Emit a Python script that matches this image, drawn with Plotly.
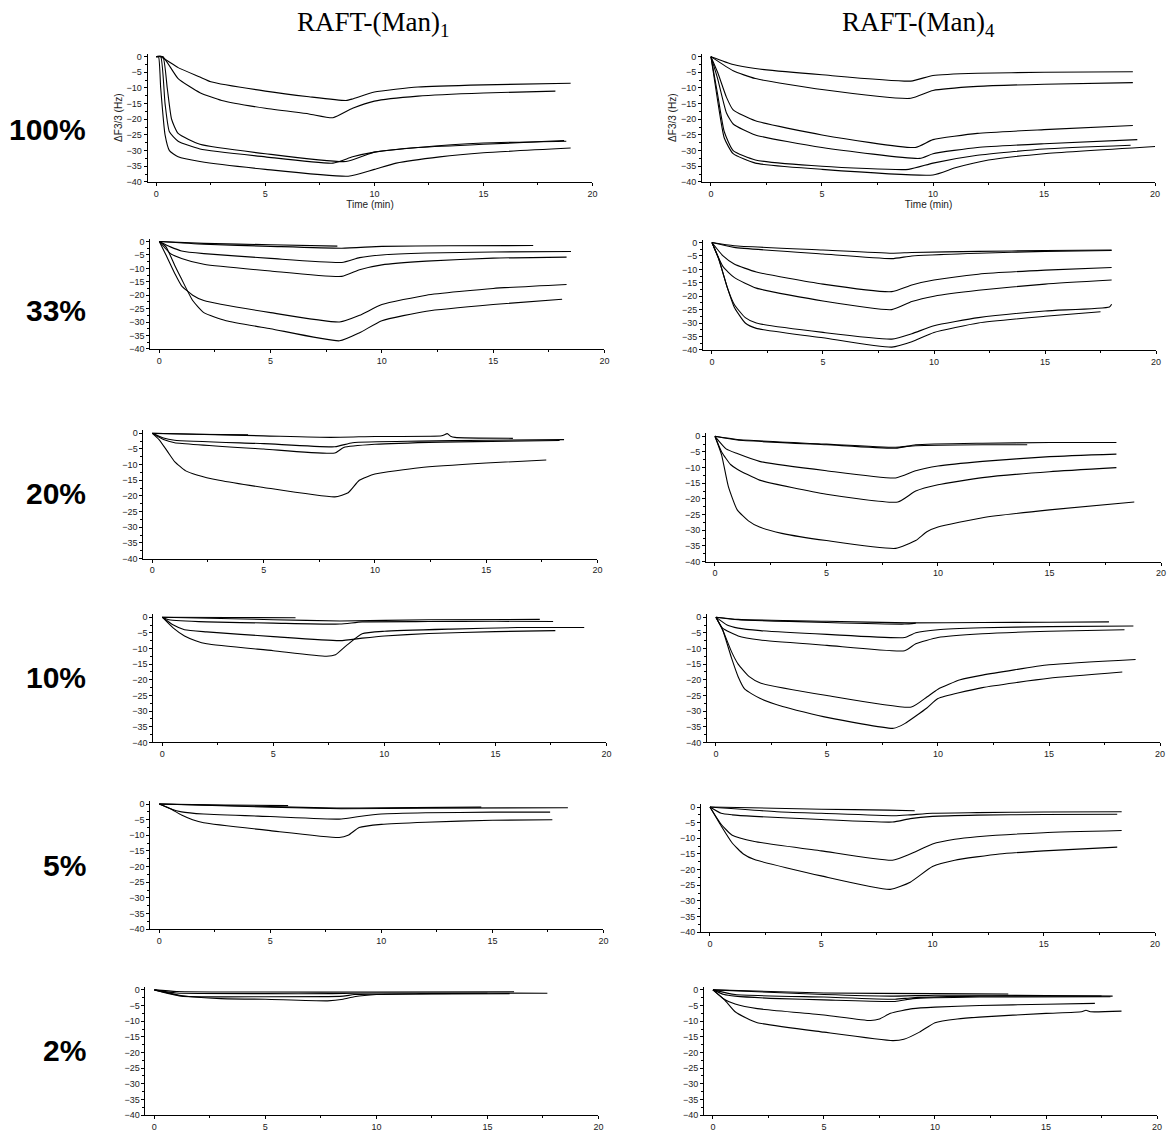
import plotly.graph_objects as go

# ---------------- DATA (time in min, ΔF3/3 in Hz) ----------------
row_labels = ["100%", "33%", "20%", "10%", "5%", "2%"]
col_titles = ["RAFT-(Man)<sub>1</sub>", "RAFT-(Man)<sub>4</sub>"]
x_ticks = [0, 5, 10, 15, 20]
y_ticks = [0, -5, -10, -15, -20, -25, -30, -35, -40]

man1_100 = [
    ([0, 0.2, 1, 2, 2.5, 5, 7, 8.7, 9, 10, 12, 15, 19],
     [0, 0, -3.5, -6.5, -8, -11, -12.8, -14, -13.5, -11.3, -9.7, -9, -8.5]),
    ([0, 0.3, 1, 2, 3, 5, 7, 8.1, 9, 10, 12, 15, 18.3],
     [0, 0, -7, -11.5, -14, -16.5, -18.3, -19.5, -16.5, -14.2, -12.6, -11.6, -11]),
    ([0, 0.3, 0.5, 0.7, 1, 2, 5, 8.7, 10, 12, 15, 18.8],
     [0, 0, -10, -20, -24.5, -28, -31, -33.5, -30.5, -29, -27.6, -27]),
    ([0, 0.2, 0.4, 0.6, 1, 2, 5, 8.1, 9, 10, 12, 15, 18.7],
     [0, 0, -15, -24, -27, -29.5, -32, -34, -32, -30.5, -29, -28, -26.8]),
    ([0, 0.1, 0.2, 0.4, 0.6, 1, 2, 5, 8.8, 10, 11, 13, 15, 19],
     [0, 0, -10, -25, -30, -32, -33.5, -36, -38.2, -36, -34, -32, -30.7, -29.2]),
]
man4_100 = [
    ([0, 1, 2, 5, 9, 10, 12, 15, 19],
     [0, -2.5, -3.8, -5.8, -7.8, -6, -5.3, -5, -4.8]),
    ([0, 1, 2, 5, 9, 10, 12, 15, 19],
     [0, -4.5, -7, -10.5, -13.3, -10.8, -9.5, -8.8, -8.3]),
    ([0, 0.3, 0.7, 1, 2, 5, 9.2, 10, 12, 15, 19],
     [0, -5, -13, -17, -20.5, -25, -29, -26.5, -24.5, -23.3, -22]),
    ([0, 0.3, 0.7, 1, 2, 5, 9.4, 10, 12, 15, 19.2],
     [0, -7, -18, -21.5, -25, -29, -32.5, -31, -29, -27.8, -26.5]),
    ([0, 0.3, 0.6, 1, 2, 5, 8.9, 10, 12, 15, 18.9],
     [0, -12, -24, -30, -33, -35, -36, -34, -31.5, -29.5, -28.3]),
    ([0, 0.3, 0.6, 1, 2, 5, 10, 11, 12.5, 15, 20],
     [0, -14, -26, -31, -34, -36, -37.8, -35.5, -33, -31, -28.7]),
]
man1_33 = [
    ([0, 2, 5, 8],
     [0, -0.7, -1.2, -1.7]),
    ([0, 2, 5, 8.2, 10, 13, 16.8],
     [0, -1, -1.8, -2.5, -1.8, -1.6, -1.5]),
    ([0, 0.5, 1, 2, 5, 8.2, 9, 10, 12, 15, 18.5],
     [0, -2, -3.5, -4.5, -6.3, -7.8, -6, -5, -4.3, -3.9, -3.7]),
    ([0, 0.5, 1, 2, 5, 8.2, 9, 10, 12, 15, 18.3],
     [0, -4.5, -6.3, -8.5, -11, -13, -10.5, -8.7, -7.3, -6.2, -5.8]),
    ([0, 0.3, 0.7, 1, 1.5, 2, 5, 8.1, 9, 10, 12, 15, 18.3],
     [0, -5, -12, -16.5, -20, -22, -26.5, -30, -27.5, -23.5, -20, -17.5, -16]),
    ([0, 0.3, 0.7, 1, 1.5, 2, 3, 5, 8.1, 9, 10, 12, 15, 18.1],
     [0, -2, -9, -14, -22, -26.5, -29.5, -32.5, -37, -34, -29.5, -26, -23.5, -21.5]),
]
man4_33 = [
    ([0, 1, 5, 8.1, 9, 12, 15, 18],
     [0, -1.2, -2.8, -4, -3.7, -3.3, -3, -2.8]),
    ([0, 1, 5, 8.1, 9, 12, 15, 18],
     [0, -1.8, -4.3, -6, -5, -4, -3.3, -3]),
    ([0, 0.5, 1, 2, 5, 8.1, 9, 10, 12, 15, 18],
     [0, -5, -8, -11, -15.5, -18.3, -15.8, -14, -11.8, -10.3, -9.3]),
    ([0, 0.5, 1, 2, 5, 8.1, 9, 10, 12, 15, 18],
     [0, -9, -13, -17, -21.8, -25, -22, -20, -17.8, -15.5, -14]),
    ([0, 0.3, 0.7, 1, 1.5, 2, 5, 8.1, 9, 10, 12, 15, 17.9, 18],
     [0, -6, -17, -23, -28, -30, -33.5, -36, -34, -31, -28, -25.5, -24, -23]),
    ([0, 0.3, 0.7, 1, 1.5, 2, 5, 8.1, 9, 10, 12, 15, 17.5],
     [0, -6, -17, -24, -30, -32, -35.5, -39, -37, -33.5, -30, -27.5, -25.8]),
]
man1_20 = [
    ([0, 2, 4.3],
     [0, -0.3, -0.5]),
    ([0, 5, 8, 10, 13, 13.25, 13.4, 13.6, 16.2],
     [0, -0.8, -1.3, -1, -0.8, -0.1, -0.9, -1.3, -1.6]),
    ([0, 0.5, 1, 5, 8.2, 9, 12, 15, 18.5],
     [0, -1.5, -2.2, -3.3, -4.3, -3, -2.5, -2.2, -2]),
    ([0, 0.5, 1, 5, 8.2, 8.6, 10, 13, 16, 18.3],
     [0, -2, -3, -5, -6.3, -4.5, -3.5, -2.8, -2.5, -2.3]),
    ([0, 0.3, 0.7, 1, 1.5, 2, 3, 5, 8.2, 8.8, 9.3, 10, 12, 15, 17.7],
     [0, -2, -6, -9, -12, -13.3, -15, -17.3, -20.3, -19, -15, -13, -11, -9.5, -8.5]),
]
man4_20 = [
    ([0, 1, 5, 8.1, 9, 12, 14],
     [0, -1, -2.5, -3.5, -3, -2.7, -2.7]),
    ([0, 1, 5, 8.1, 9, 12, 15, 18],
     [0, -1.2, -2.7, -3.8, -2.7, -2.2, -2, -2]),
    ([0, 0.5, 1, 2, 5, 8.1, 9, 10, 12, 15, 18],
     [0, -4, -5.5, -8, -11, -13.3, -11, -9.5, -8, -6.5, -5.7]),
    ([0, 0.3, 0.7, 1, 2, 5, 8.2, 9, 10, 12, 15, 18],
     [0, -5, -9, -10.5, -14, -18.5, -21, -17.5, -15.5, -13.2, -11.3, -10]),
    ([0, 0.3, 0.6, 1, 1.5, 2, 3, 5, 8.1, 9, 9.5, 10, 12, 15, 18.8],
     [0, -6, -16, -23.5, -27, -29, -31, -33.3, -35.8, -33.3, -30.5, -29, -26, -23.5, -21]),
]
man1_10 = [
    ([0, 3, 6],
     [0, -0.1, -0.2]),
    ([0, 5, 8, 12, 17],
     [0, -0.8, -1.2, -0.8, -0.7]),
    ([0, 0.3, 2, 5, 8, 9, 12, 15, 17.6],
     [0, -0.8, -1.5, -1.9, -2.2, -1.5, -1.4, -1.3, -1.4]),
    ([0, 0.5, 1, 2, 5, 8, 9, 10, 12, 15, 17.7],
     [0, -2.5, -4, -4.7, -6.2, -7.5, -6.7, -6, -5.2, -4.6, -4.3]),
    ([0, 0.5, 1, 1.5, 2, 5, 7.4, 7.8, 8.3, 9, 10, 13, 16, 19],
     [0, -3.5, -6, -7.5, -8.5, -10.7, -12.5, -12, -9, -5.3, -4.5, -3.8, -3.3, -3.3]),
]
man4_10 = [
    ([0, 1, 5, 8.7, 12, 15, 17.7],
     [0, -0.7, -1.3, -1.8, -1.7, -1.6, -1.5]),
    ([0, 1, 5, 8.5, 9],
     [0, -0.8, -1.7, -2.2, -1.9]),
    ([0, 0.5, 1, 2, 5, 8.5, 9, 10, 12, 15, 18.8],
     [0, -2.5, -3.5, -4.3, -5.5, -6.5, -5, -4, -3.4, -3, -2.8]),
    ([0, 0.3, 1, 2, 5, 8.5, 9, 10, 12, 15, 18.4],
     [0, -3.5, -6, -7.3, -9, -10.7, -8.5, -6.5, -5.3, -4.5, -4]),
    ([0, 0.3, 0.7, 1, 1.5, 2, 5, 8.8, 9.5, 10, 11, 12, 15, 18.9],
     [0, -4, -11, -15, -19, -21, -25, -28.7, -25.5, -23, -20, -18.5, -15.2, -13.5]),
    ([0, 0.3, 0.7, 1, 1.3, 2, 3, 5, 8, 8.5, 9.5, 10, 12, 15, 18.3],
     [0, -4, -13, -19, -23, -26, -28.5, -32, -35.5, -34, -29, -26, -22.5, -19.5, -17.5]),
]
man1_5 = [
    ([0, 3, 5.8],
     [0, -0.3, -0.5]),
    ([0, 5, 8, 10, 14.5],
     [0, -0.8, -1.3, -1.2, -1]),
    ([0, 5, 8.2, 12, 18.4],
     [0, -1, -1.5, -1.3, -1.2]),
    ([0, 0.5, 1, 2, 5, 8.2, 9, 10, 12, 15, 17.6],
     [0, -1.5, -2.5, -3.2, -4, -4.8, -4, -3.2, -2.8, -2.6, -2.6]),
    ([0, 0.5, 1, 1.5, 2, 5, 8.1, 8.5, 9, 10, 12, 15, 17.7],
     [0, -1.5, -3.5, -5, -6, -8.5, -10.7, -10, -7.5, -6.5, -5.8, -5.2, -5]),
]
man4_5 = [
    ([0, 5, 8, 9.2],
     [0, -0.7, -1, -1.2]),
    ([0, 3, 5, 8.3, 9, 10, 12, 15, 18.5],
     [0, -1.5, -2, -2.8, -2.5, -2, -1.8, -1.6, -1.5]),
    ([0, 0.5, 1, 2, 5, 8.2, 9, 10, 12, 15, 18.3],
     [0, -2, -2.5, -3, -4, -4.8, -3.7, -3, -2.6, -2.4, -2.3]),
    ([0, 0.5, 1, 2, 5, 8.2, 9, 10, 11, 12, 15, 18.5],
     [0, -5.5, -9, -11, -14, -17, -15, -11.8, -10.3, -9.5, -8.2, -7.5]),
    ([0, 0.5, 1, 1.5, 2, 5, 8.1, 9, 10, 11, 13, 15, 18.3],
     [0, -6, -11.5, -15, -16.8, -22, -26.3, -24, -19, -17, -15, -14, -12.8]),
]
man1_2 = [
    ([0, 1, 5, 10, 16.2],
     [0, -0.5, -0.7, -0.7, -0.6]),
    ([0, 1, 5, 8, 10, 15, 17.7],
     [0, -1, -1.2, -1.2, -1, -1, -1.1]),
    ([0, 1.2, 5, 8.5, 9, 12, 15],
     [0, -2, -2.2, -2, -1.5, -1.2, -1.1]),
    ([0, 1.2, 3, 5, 7.8, 8.5, 9, 10, 13, 16],
     [0, -1.8, -2.8, -3, -3.5, -3, -2.2, -1.5, -1.3, -1.2]),
]
man4_2 = [
    ([0, 5, 10, 13.3],
     [0, -1, -1.2, -1.3]),
    ([0, 5, 8, 10, 15, 18],
     [0, -1.5, -2, -1.7, -1.8, -2]),
    ([0, 1, 5, 8.2, 9, 12, 15, 17.5],
     [0, -1.5, -2.3, -3, -2.5, -2, -2, -2]),
    ([0, 0.5, 1, 3, 5, 8.2, 9, 12, 17.9],
     [0, -1.5, -2, -2.8, -3.2, -3.7, -2.8, -2.3, -2.2]),
    ([0, 0.5, 1, 2, 5, 7.1, 7.5, 8, 9, 10, 12, 15, 17.2],
     [0, -3, -4.5, -6, -8, -9.8, -9.3, -7.5, -6, -5.5, -5, -4.6, -4.3]),
    ([0, 0.5, 1, 1.5, 2, 5, 8.1, 8.6, 9.3, 10, 11, 12, 15, 16.6, 16.8, 17, 18.4],
     [0, -3, -7, -9, -10.5, -13.5, -16.2, -15.8, -13.5, -10.5, -9.3, -8.7, -7.5, -7, -6.5, -7, -6.8]),
]

panels = [man1_100, man4_100, man1_33, man4_33, man1_20, man4_20,
          man1_10, man4_10, man1_5, man4_5, man1_2, man4_2]

# ---------------- LAYOUT GEOMETRY (pixels: x of t=0, x of t=20, y of 0 Hz, y of -40 Hz) ----------------
W, H = 1173, 1136
geom = [
    (157, 595, 55, 181), (714, 1160, 55, 181),
    (160, 607, 241, 349), (715, 1161, 242, 350),
    (153, 600, 434, 560), (718, 1166, 437, 563),
    (163, 609, 619, 745), (719, 1165, 619, 745),
    (160, 606, 807, 933), (713, 1160, 810, 936),
    (155, 601, 994, 1120), (716, 1162, 994, 1120),
]
row_label_y = [128, 310, 495, 680, 869, 1055]
XMIN, YMAX = -0.4, 1.0

tick_font = dict(family="Liberation Sans, Arial, sans-serif", size=9, color="#222")
title_font = dict(family="Liberation Sans, Arial, sans-serif", size=10, color="#222")

fig = go.Figure()
layout = {}
for i, (curves, g) in enumerate(zip(panels, geom)):
    sfx = "" if i == 0 else str(i + 1)
    xa, ya = "x" + sfx, "y" + sfx
    for t, v in curves:
        fig.add_trace(go.Scatter(x=t, y=v, mode="lines",
                                 line=dict(color="black", width=1.1, shape="spline", smoothing=0.5),
                                 xaxis=xa, yaxis=ya, showlegend=False,
                                 hoverinfo="skip"))
    px0, px20, py0, py40 = g
    ppu = (px20 - px0) / 20.0
    left = px0 + XMIN * ppu
    ypu = (py40 - py0) / 40.0
    top = py0 - YMAX * ypu
    xdict = dict(domain=[left / W, px20 / W], range=[XMIN, 20], anchor=ya,
                 tickvals=x_ticks, ticks="outside", ticklen=3, tickwidth=1,
                 tickcolor="black", showline=True, linecolor="black", linewidth=1,
                 showgrid=False, zeroline=False, tickfont=tick_font,
                 minor=dict(dtick=2.5, tick0=0, ticks="outside", ticklen=2,
                            tickcolor="black", showgrid=False))
    ydict = dict(domain=[1 - py40 / H, 1 - top / H], range=[-40, YMAX], anchor=xa,
                 tickvals=y_ticks, ticks="outside", ticklen=3, tickwidth=1,
                 tickcolor="black", showline=True, linecolor="black", linewidth=1,
                 showgrid=False, zeroline=False, tickfont=tick_font,
                 minor=dict(dtick=2.5, tick0=0, ticks="outside", ticklen=2,
                            tickcolor="black", showgrid=False))
    if i < 2:
        xdict["title"] = dict(text="Time (min)", standoff=3, font=title_font)
        ydict["title"] = dict(text="ΔF3/3 (Hz)", standoff=2, font=title_font)
    layout["xaxis" + sfx] = xdict
    layout["yaxis" + sfx] = ydict

annotations = []
for lab, yy in zip(row_labels, row_label_y):
    annotations.append(dict(text="<b>" + lab + "</b>", x=88 / W, y=1 - yy / H,
                            xref="paper", yref="paper", xanchor="right", yanchor="middle",
                            showarrow=False,
                            font=dict(family="Liberation Sans, Arial, sans-serif", size=30, color="black")))
for txt, cx in zip(col_titles, [375, 922]):
    annotations.append(dict(text=txt, x=cx / W, y=1 - 22 / H, xref="paper", yref="paper",
                            xanchor="center", yanchor="middle", showarrow=False,
                            font=dict(family="Liberation Serif, Times New Roman, serif", size=27, color="black")))

fig.update_layout(width=W, height=H, margin=dict(l=0, r=0, t=0, b=0),
                  paper_bgcolor="white", plot_bgcolor="white",
                  annotations=annotations, **layout)

fig.write_html("out.html", config={"displayModeBar": False},
               post_script="document.body.style.margin='0';document.body.style.overflow='hidden';")
